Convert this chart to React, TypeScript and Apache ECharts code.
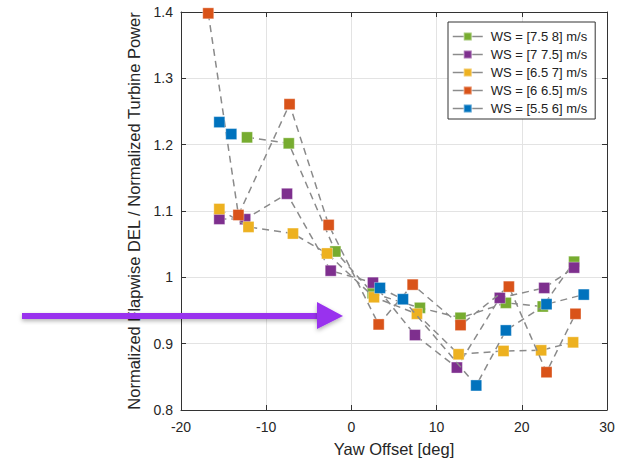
import React, { useEffect, useRef } from "react";
import * as echarts from "echarts";

const seriesNames = [
  "WS = [7.5 8] m/s",
  "WS = [7 7.5] m/s",
  "WS = [6.5 7] m/s",
  "WS = [6 6.5] m/s",
  "WS = [5.5 6] m/s",
];
const seriesColors = ["#77AC30", "#7E2F8E", "#EDB120", "#D95319", "#0072BD"];

const greenX = [-12.25, -7.35, -1.88, 2.5, 8.04, 12.81, 18.13, 22.46, 26.14];
const greenY = [1.211, 1.202, 1.039, 0.976, 0.954, 0.939, 0.9615, 0.956, 1.0236];

const purpleX = [-15.5, -12.47, -7.56, -2.43, 2.53, 7.46, 12.38, 17.42, 22.63, 26.14];
const purpleY = [1.088, 1.0876, 1.126, 1.01, 0.992, 0.913, 0.864, 0.969, 0.984, 1.0146];

const yellowX = [-15.5, -12.08, -6.86, -2.86, 2.65, 7.69, 12.58, 17.85, 22.27, 26.02];
const yellowY = [1.103, 1.076, 1.066, 1.036, 0.97, 0.945, 0.884, 0.889, 0.89, 0.902];

const orangeX = [-16.8, -13.26, -7.26, -2.67, 3.2, 7.19, 12.81, 18.48, 22.9, 26.3];
const orangeY = [1.398, 1.094, 1.261, 1.079, 0.929, 0.989, 0.928, 0.986, 0.857, 0.945];

// null marks a break in the connecting line
const blueX = [-15.5, -14.1, null, 3.35, 6.05, 14.65, 18.13, 22.9, 27.27];
const blueY = [1.234, 1.216, null, 0.984, 0.967, 0.837, 0.92, 0.9595, 0.974];

const xTicks = { min: -20, max: 30, interval: 10 };
const yTicks = { min: 0.8, max: 1.4, interval: 0.1 };

const allX = [greenX, purpleX, yellowX, orangeX, blueX];
const allY = [greenY, purpleY, yellowY, orangeY, blueY];

const FONT = "Liberation Sans, Arial, sans-serif";

export default function App() {
  const ref = useRef<HTMLDivElement>(null);
  useEffect(() => {
    if (!ref.current) return;
    const chart = echarts.init(ref.current, null, { renderer: "svg" });
    const gridL = 181,
      gridT = 12,
      gridW = 426,
      gridH = 403;
    const series = seriesNames.map((name, i) => ({
      name,
      type: "line",
      data: allX[i].map((x, j) =>
        x === null || allY[i][j] === null ? "-" : [x, allY[i][j]]
      ),
      connectNulls: false,
      symbol: "rect",
      symbolSize: 11,
      itemStyle: { color: seriesColors[i], borderColor: "rgba(255,255,255,0.35)", borderWidth: 1 },
      lineStyle: { color: "#8a8a8a", width: 1.5, type: [7, 5] },
      z: 2 + i,
    }));
    const axisLine = { show: true, onZero: false, lineStyle: { color: "#333", width: 1 } };
    const axisTick = { show: true, inside: true, length: 5, lineStyle: { color: "#333" } };
    chart.setOption({
      animation: false,
      backgroundColor: "#fff",
      grid: { left: gridL, top: gridT, width: gridW, height: gridH, containLabel: false },
      legend: {
        orient: "vertical",
        left: 448,
        top: 22,
        backgroundColor: "#fff",
        borderColor: "#333",
        borderWidth: 1,
        borderRadius: 0,
        padding: [8, 8, 4, 4],
        itemGap: 5,
        itemWidth: 30,
        itemHeight: 10,
        lineStyle: { color: "#8c8c8c", type: "solid", width: 1.5 },
        textStyle: { fontFamily: FONT, fontSize: 13, color: "#222", padding: [0, 0, 0, 3] },
        data: seriesNames,
      },
      xAxis: [
        {
          type: "value",
          min: xTicks.min,
          max: xTicks.max,
          interval: xTicks.interval,
          name: "Yaw Offset [deg]",
          nameLocation: "middle",
          nameGap: 30,
          nameTextStyle: { fontFamily: FONT, fontSize: 16.5, color: "#262626" },
          axisLine,
          axisTick,
          axisLabel: { fontFamily: FONT, fontSize: 14, color: "#262626", margin: 10 },
          splitLine: { show: true, lineStyle: { color: "#e3e3e3", width: 1 } },
        },
        {
          type: "value",
          position: "top",
          min: xTicks.min,
          max: xTicks.max,
          interval: xTicks.interval,
          axisLine,
          axisTick,
          axisLabel: { show: false },
          splitLine: { show: false },
        },
      ],
      yAxis: [
        {
          type: "value",
          min: yTicks.min,
          max: yTicks.max,
          interval: yTicks.interval,
          name: "Normalized Flapwise DEL / Normalized Turbine Power",
          nameLocation: "middle",
          nameGap: 34,
          nameTextStyle: { fontFamily: FONT, fontSize: 16.5, color: "#262626" },
          axisLine,
          axisTick,
          axisLabel: { fontFamily: FONT, fontSize: 14, color: "#262626", margin: 8 },
          splitLine: { show: true, lineStyle: { color: "#e3e3e3", width: 1 } },
        },
        {
          type: "value",
          position: "right",
          min: yTicks.min,
          max: yTicks.max,
          interval: yTicks.interval,
          axisLine,
          axisTick,
          axisLabel: { show: false },
          splitLine: { show: false },
        },
      ],
      series,
      graphic: [
        {
          type: "rect",
          z: 100,
          shape: { x: 22, y: 313, width: 300, height: 6 },
          style: {
            fill: "#9933ee",
            shadowBlur: 4,
            shadowColor: "rgba(0,0,0,0.3)",
            shadowOffsetY: 2,
          },
        },
        {
          type: "polygon",
          z: 101,
          shape: { points: [[317, 302], [343, 316], [317, 329]] },
          style: {
            fill: "#9933ee",
            shadowBlur: 4,
            shadowColor: "rgba(0,0,0,0.3)",
            shadowOffsetY: 2,
          },
        },
      ],
    });
    return () => chart.dispose();
  }, []);
  return (
    <div
      ref={ref}
      style={{ position: "absolute", left: 0, top: 0, width: 623, height: 462 }}
    />
  );
}
